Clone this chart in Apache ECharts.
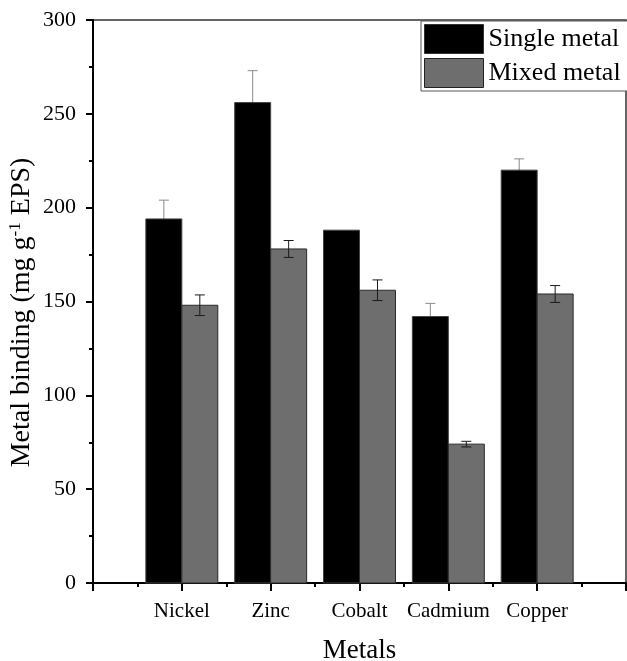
<!DOCTYPE html>
<html><head><meta charset="utf-8">
<script src="https://cdn.jsdelivr.net/npm/echarts@6/dist/echarts.min.js"></script>
<style>html,body{margin:0;padding:0;background:#fff}#c{width:627px;height:661px}</style>
</head><body><div id="c"></div>
<script>
var categories = ['Nickel', 'Zinc', 'Cobalt', 'Cadmium', 'Copper'];
var seriesNames = ['Single metal', 'Mixed metal'];
var singleValues = [194, 256, 188, 142, 220];
var singleErrors = [10, 17, 0, 7, 6];
var mixedValues = [148, 178, 156, 74, 154];
var mixedErrors = [5.5, 4.5, 5.5, 1.5, 4.5];
var yTicks = [0, 50, 100, 150, 200, 250, 300];

var FONT = 'Liberation Serif';
var BAR_FRAC = 0.405;

function barData(vals, errs) {
  return vals.map(function (v, i) { return [i + 1, v, errs[i]]; });
}

function barRender(side, fill, stroke) {
  return function (params, api) {
    var x = api.value(0), v = api.value(1);
    var top = api.coord([x, v]);
    var base = api.coord([x, 0]);
    var w = api.size([1, 0])[0] * BAR_FRAC;
    var x0 = side < 0 ? top[0] - w : top[0];
    return {
      type: 'rect',
      shape: { x: x0, y: top[1], width: w, height: base[1] - top[1] },
      style: { fill: fill, stroke: stroke, lineWidth: 1 }
    };
  };
}

function errRender(side, color) {
  return function (params, api) {
    var x = api.value(0), v = api.value(1), e = api.value(2);
    if (!e) return null;
    var w = api.size([1, 0])[0] * BAR_FRAC;
    var c = api.coord([x, v]);
    var cx = c[0] + side * w / 2;
    var hi = api.coord([x, v + e])[1];
    var lo = api.coord([x, v - e])[1];
    var cap = 5;
    return {
      type: 'group',
      children: [
        { type: 'line', shape: { x1: cx, y1: hi, x2: cx, y2: lo }, style: { stroke: color, lineWidth: 1 } },
        { type: 'line', shape: { x1: cx - cap, y1: hi, x2: cx + cap, y2: hi }, style: { stroke: color, lineWidth: 1 } },
        { type: 'line', shape: { x1: cx - cap, y1: lo, x2: cx + cap, y2: lo }, style: { stroke: color, lineWidth: 1 } }
      ]
    };
  };
}

var chart = echarts.init(document.getElementById('c'), null, { renderer: 'canvas' });
chart.setOption({
  animation: false,
  backgroundColor: '#fff',
  grid: { left: 93, right: 1, top: 20, bottom: 78, containLabel: false, outerBoundsMode: 'none', show: true, borderColor: '#333', borderWidth: 1.5, backgroundColor: 'transparent' },
  legend: {
    left: 421, top: 21, orient: 'vertical',
    itemWidth: 59, itemHeight: 29, itemGap: 4,
    padding: [3, 10, 3, 3],
    borderColor: '#555', borderWidth: 1, backgroundColor: '#fff',
    textStyle: { fontFamily: FONT, fontSize: 26, color: '#000' },
    data: [
      { name: seriesNames[0], icon: 'rect', itemStyle: { color: '#000', borderColor: '#333', borderWidth: 1 } },
      { name: seriesNames[1], icon: 'rect', itemStyle: { color: '#6e6e6e', borderColor: '#222', borderWidth: 1 } }
    ]
  },
  xAxis: {
    type: 'value', min: 0, max: 6, interval: 1,
    name: 'Metals', nameLocation: 'middle', nameGap: 54,
    nameTextStyle: { fontFamily: FONT, fontSize: 27, color: '#000' },
    axisLine: { lineStyle: { color: '#000', width: 2 } },
    axisTick: { show: true, length: 8, lineStyle: { color: '#000', width: 2 } },
    minorTick: { show: true, splitNumber: 2, length: 4, lineStyle: { color: '#000', width: 2 } },
    splitLine: { show: false },
    axisLabel: {
      margin: 18, fontFamily: FONT, fontSize: 21, color: '#000',
      formatter: function (v) { return categories[v - 1] || ''; }
    }
  },
  yAxis: {
    type: 'value', min: yTicks[0], max: yTicks[yTicks.length - 1], interval: yTicks[1] - yTicks[0],
    name: '{n|Metal binding (mg g}{s|-1}{n| EPS)}', nameLocation: 'middle', nameGap: 57, nameRotate: 90,
    nameMoveOverlap: false,
    nameTextStyle: {
      fontFamily: FONT, fontSize: 28, color: '#000', padding: [0, 22, 0, 0],
      rich: {
        n: { fontFamily: FONT, fontSize: 28, color: '#000' },
        s: { fontFamily: FONT, fontSize: 17, color: '#000', verticalAlign: 'top', padding: [0, 0, 12, 0] }
      }
    },
    axisLine: { show: true, lineStyle: { color: '#000', width: 2 } },
    axisTick: { show: true, length: 7, lineStyle: { color: '#000', width: 2 } },
    minorTick: { show: true, splitNumber: 2, length: 4, lineStyle: { color: '#000', width: 2 } },
    splitLine: { show: false },
    axisLabel: { margin: 17, fontFamily: FONT, fontSize: 22, color: '#000' }
  },
  series: [
    { type: 'custom', name: 'single err', z: 1, renderItem: errRender(-1, '#8a8a8a'), data: barData(singleValues, singleErrors), encode: { x: 0, y: 1 }, silent: true },
    { type: 'custom', name: seriesNames[0], z: 2, itemStyle: { color: '#000' }, renderItem: barRender(-1, '#000', '#444'), data: barData(singleValues, singleErrors), encode: { x: 0, y: 1 } },
    { type: 'custom', name: seriesNames[1], z: 2, itemStyle: { color: '#6e6e6e' }, renderItem: barRender(1, '#6e6e6e', '#2a2a2a'), data: barData(mixedValues, mixedErrors), encode: { x: 0, y: 1 } },
    { type: 'custom', name: 'mixed err', z: 3, renderItem: errRender(1, '#1a1a1a'), data: barData(mixedValues, mixedErrors), encode: { x: 0, y: 1 }, silent: true }
  ]
});
</script></body></html>
